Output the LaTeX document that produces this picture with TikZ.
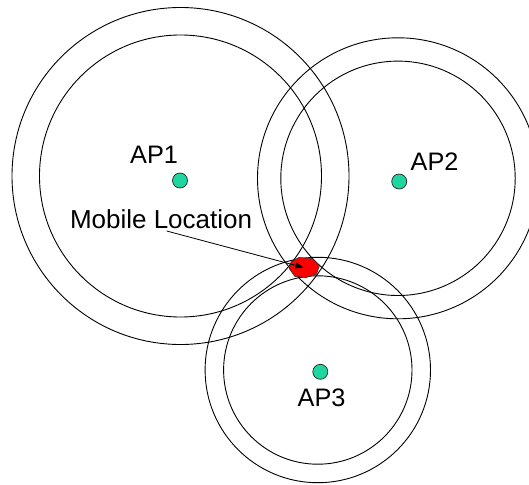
\documentclass[tikz,border=0pt]{standalone}
\usepackage{fontspec}
\setmainfont{Liberation Sans}
\usetikzlibrary{arrows.meta}
\definecolor{apgreen}{RGB}{32,214,160}
\tikzset{
  ring/.style={draw=black, line width=0.9pt},
  apdot/.style={circle, draw=black!85, line width=0.7pt, fill=apgreen, minimum size=15pt, inner sep=0pt},
  lbl/.style={font=\fontsize{25.3}{30}\selectfont, inner sep=0pt, anchor=base west},
  pointer/.style={draw=black, line width=0.8pt, -{Triangle[length=8pt,width=6pt]}},
  blob/.style={draw=black!80, line width=0.7pt, fill=red}
}
\begin{document}
\begin{tikzpicture}[x=1pt,y=-1pt]
\useasboundingbox (0,0) rectangle (529,484);
\clip (0,0) rectangle (529,484);
\fill[white] (0,0) rectangle (529,484);
% range rings
\coordinate (c1) at (180.5,176);
\coordinate (c2) at (398,178.3);
\coordinate (c3) at (317.8,370);
\draw[ring] (c1) circle[radius=168.5];
\draw[ring] (c1) circle[radius=141];
\draw[ring] (c2) circle[radius=140.5];
\draw[ring] (c2) circle[radius=117.2];
\draw[ring] (c3) circle[radius=112.7];
\draw[ring] (c3) circle[radius=94.2];
% mobile location area
\draw[blob] (291,262) -- (299,257.5) -- (312,258.5) -- (319.5,265.5) -- (316.5,274) -- (306,277.5) -- (295,276.5) -- (289.5,269) -- cycle;
% access points
\node[apdot] (ap1) at (180,180.5) {};
\node[apdot] (ap2) at (399.2,181.5) {};
\node[apdot] (ap3) at (320.3,371.8) {};
% labels
\node[lbl] (l1) at (130,163.5) {AP1};
\node[lbl] (l2) at (410.5,170) {AP2};
\node[lbl] (l3) at (297.5,406) {AP3};
\node[lbl, font=\fontsize{26}{30}\selectfont] (ml) at (69.8,228.3) {Mobile Location};
\coordinate (mls) at (166.7,231);
\coordinate (loc) at (303.5,267.5);
\draw[pointer] (mls) -- (loc);
\end{tikzpicture}
\end{document}
